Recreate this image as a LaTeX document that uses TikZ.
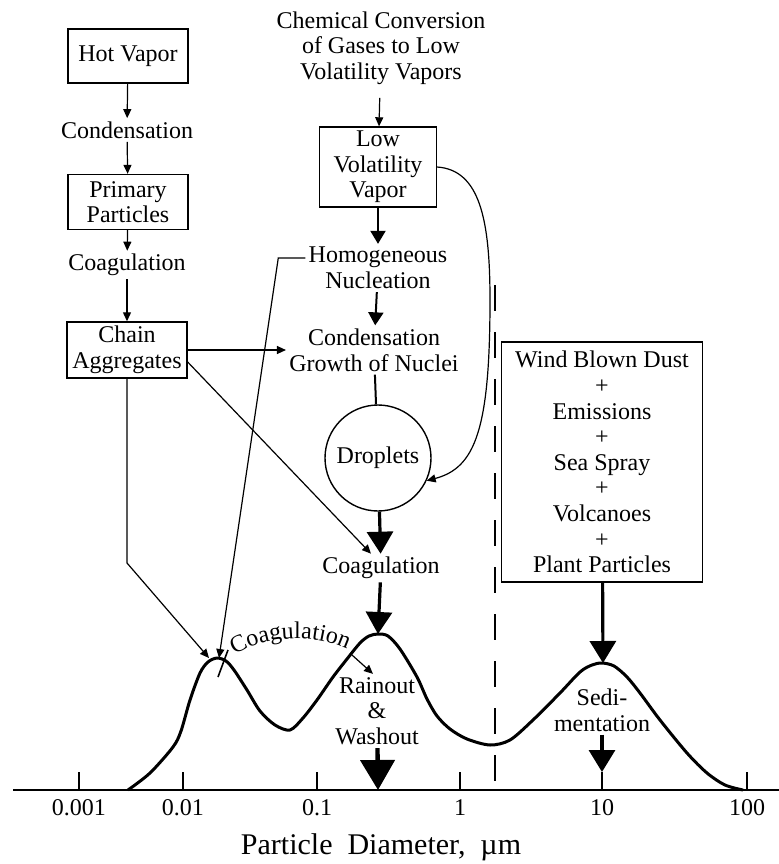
\documentclass[tikz,border=0pt]{standalone}
\usepackage{fontspec}
\setmainfont{Liberation Serif}
\usetikzlibrary{arrows.meta}
\usetikzlibrary{positioning}
\usetikzlibrary{decorations.text}

\begin{document}
\fontsize{12}{12.8}\selectfont
\begin{tikzpicture}[x=0.5pt,y=-0.5pt]
	\useasboundingbox (0,0) rectangle (779,864);
	\tikzstyle{arr}=[line width=0.6pt,-{Triangle[length=4.5pt,width=4pt]}]
	\tikzstyle{arrmid}=[line width=1pt,-{Triangle[length=6.5pt,width=7.5pt]}]
	\tikzstyle{arrbig}=[line width=1.6pt,-{Triangle[length=11pt,width=13pt]}]
	\tikzstyle{arrhuge}=[line width=2.2pt,-{Triangle[length=15pt,width=17pt]}]
	\tikzset{boxed/.style={draw,line width=0.7pt,align=center,inner sep=2pt,minimum width=60pt},word/.style={align=center,inner sep=1.5pt}}
	% left column
	\node[boxed,minimum height=27pt] (hot) at (128,56) {Hot Vapor};
	\node[word] (cond) at (127,130) {Condensation};
	\node[boxed,minimum height=27.5pt] (prim) at (128,202) {Primary\\Particles};
	\node[word] (coag) at (127,265) {Coagulation};
	\node[boxed,minimum height=28pt] (chain) at (127,350) {Chain\\Aggregates};
	% middle column
	\node[word] (chem) at (381,48) {Chemical Conversion\\of Gases to Low\\Volatility Vapors};
	\node[boxed,minimum width=58.5pt,minimum height=39.5pt] (lvv) at (378,167) {Low\\Volatility\\Vapor};
	\node[word] (homo) at (378,268) {Homogeneous\\Nucleation};
	\node[word] (grow) at (374,350) {Condensation\\Growth of Nuclei};
	\node[draw,circle,line width=0.7pt,minimum size=53pt,inner sep=0pt] (drop) at (378,458) {Droplets};
	\node[word] (coagb) at (381,568) {Coagulation};
	\node[word] (rain) at (377,711) {Rainout\\\&\\Washout};
	% right column
	\node[boxed,minimum width=100.5pt,minimum height=120pt] (wind) at (602,462) {Wind Blown Dust\\+\\Emissions\\+\\Sea Spray\\+\\Volcanoes\\+\\Plant Particles};
	\node[word] (sedi) at (602,710) {Sedi-\\mentation};
	% axis and distribution
	\coordinate (ax0) at (13,790);
	\coordinate (ax1) at (779,790);
	\coordinate (axr) at (378,790);
	\coordinate (tk10) at (602,772);
	\coordinate (pk1) at (217,658);
	\coordinate (pk2) at (378,634);
	\coordinate (pk3) at (603,663);
	\coordinate (dtop) at (495,285);
	\coordinate (dbot) at (495,790);
	\draw[line width=1pt] (ax0) -- (ax1);
	\foreach \x/\t in {79/0.001,183/0.01,317/0.1,460/1,602/10,747/100}{
		\draw[line width=0.6pt] (\x,790) -- (\x,772);
		\node[word] (t\x) at (\x,808) {\t};
	}
	\node[word,font=\fontsize{15}{18}\selectfont] (xlab) at (381,847) {Particle\ \ Diameter,\ \ µm};
	\draw[line width=1.5pt,line join=round] plot[smooth,tension=0.5] coordinates {(128,790) (150,773) (173,747) (181,731) (190,700) (200,673) (208,662) (217,658) (226,661) (234,670) (247,690) (260,711) (275,725) (290,730) (303,718) (317,700) (333,677) (347,659) (360,643) (369,636) (378,634) (388,636) (400,649) (417,677) (427,699) (437,716) (450,729) (467,739) (490,745) (510,740) (533,720) (560,693) (580,672) (592,665) (602,663) (614,666) (627,677) (640,693) (660,720) (687,753) (707,773) (725,785) (743,790)};
	\draw[line width=0.8pt,dash pattern=on 13pt off 10.5pt] (dtop) -- (dbot);
	% flows
	\draw[arr] (hot) -- (cond);
	\draw[arr] (cond) -- (prim);
	\draw[arr] (prim) -- (coag);
	\draw[arr] (coag) -- (chain);
	\draw[arr,shorten <=5pt] (chem) -- (lvv);
	\draw[arrmid] (lvv) -- (homo);
	\draw[arrmid] (homo) -- (grow);
	\draw[line width=1pt] (grow) -- (drop);
	\draw[arrbig] (drop) -- (coagb);
	\draw[arrbig] (coagb) -- (pk2);
	\draw[arrhuge] (rain) -- (axr);
	\draw[arrbig] (wind) -- (pk3);
	\draw[arrbig] (sedi) -- (tk10);
	\draw[arr] (chain.east) -- (grow.west);
	\draw[arr] ([yshift=-6pt]chain.east) -- ([xshift=-5pt]coagb.north);
	\draw[arr] (chain.south) -- (127,563) -- ([xshift=-4pt]pk1);
	\draw[arr] ([yshift=5pt]homo.west) -- ++(-27,0) -- ([xshift=1pt]pk1);
	\draw[arr] (lvv.east) .. controls (480,170) and (490,220) .. (490,300) .. controls (490,430) and (475,468) .. (drop.-25);
	% coagulation between modes
	\draw[line width=0.8pt] (218,677) -- (228,650);
	\path[decorate,decoration={text along path,text align=center,text={Coagulation}}] (229,658) .. controls (266,634) and (316,632) .. (353,652);
	\coordinate (cgend) at (352,655);
	\draw[arr] (cgend) -- ([xshift=-2pt]rain.north);
\end{tikzpicture}
\end{document}
